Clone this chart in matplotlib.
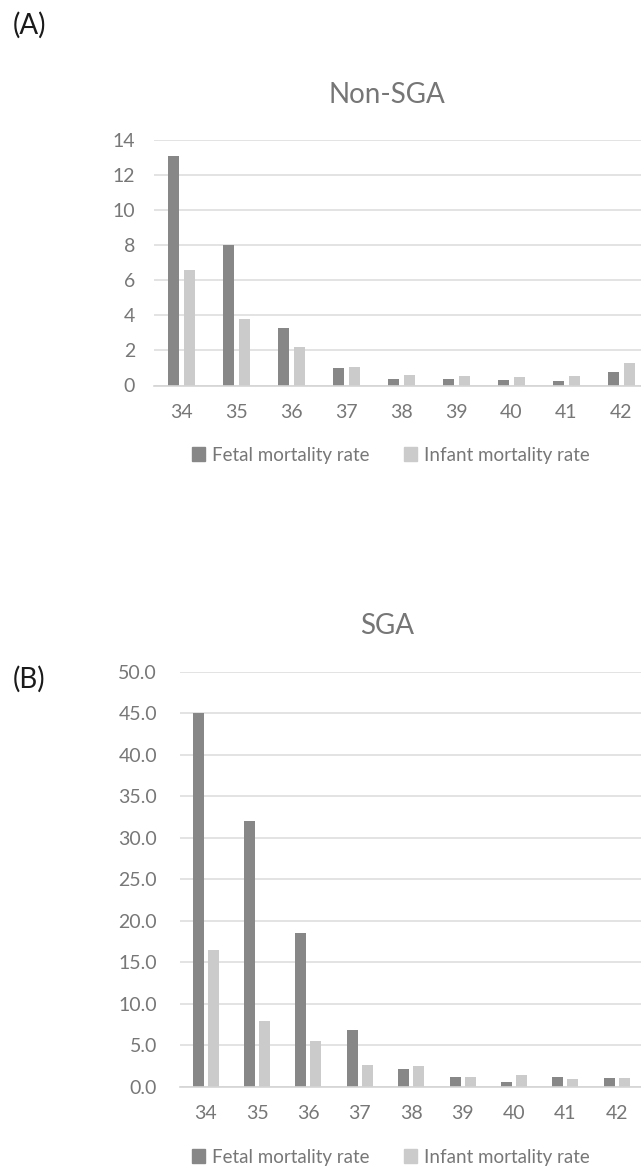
import matplotlib.pyplot as plt
import matplotlib.patches as mpatches
import numpy as np

plt.rcParams['font.family'] = ['Lato', 'DejaVu Sans']

# gestational week categories
weeks = ['34', '35', '36', '37', '38', '39', '40', '41', '42']

# non-SGA rates
nonsga_fetal = [13.1, 8.0, 3.3, 0.98, 0.38, 0.37, 0.29, 0.27, 0.79]
nonsga_infant = [6.6, 3.8, 2.17, 1.07, 0.6, 0.55, 0.48, 0.56, 1.3]

# SGA rates
sga_fetal = [45.0, 32.0, 18.5, 6.8, 2.1, 1.15, 0.6, 1.2, 1.1]
sga_infant = [16.5, 7.9, 5.5, 2.65, 2.5, 1.15, 1.4, 0.9, 1.1]

series_names = ['Fetal mortality rate', 'Infant mortality rate']
dark = '#878787'
light = '#cbcbcb'
txt = '#777777'
grid_c = '#dedede'

W, H = 641, 1166
fig = plt.figure(figsize=(W / 100, H / 100), dpi=100)


def px_axes(left, right, top, bottom):
    return fig.add_axes([left / W, 1 - bottom / H, (right - left) / W, (bottom - top) / H])


def draw_panel(ax, fetal, infant, ymax, step, fmt, ypad):
    x = np.arange(len(weeks))
    w = 0.216
    off = 0.146
    ax.bar(x - off, fetal, w, color=dark, zorder=3)
    ax.bar(x + off, infant, w, color=light, zorder=3)
    ax.set_xlim(-0.5, len(weeks) - 0.5)
    ax.set_ylim(0, ymax)
    ax.set_xticks(x)
    ax.set_xticklabels(weeks)
    ticks = np.arange(0, ymax + step / 2, step)
    ax.set_yticks(ticks)
    ax.set_yticklabels([fmt.format(t) for t in ticks])
    ax.yaxis.grid(True, color=grid_c, linewidth=1.2, zorder=0)
    for s in ['top', 'right', 'left']:
        ax.spines[s].set_visible(False)
    ax.spines['bottom'].set_color('#d4d4d4')
    ax.spines['bottom'].set_linewidth(1.2)
    ax.spines['bottom'].set_zorder(4)
    ax.tick_params(axis='x', length=0, pad=13, labelsize=14, labelcolor=txt)
    ax.tick_params(axis='y', length=0, pad=ypad, labelsize=14, labelcolor=txt)


# (A) Non-SGA
ax1 = px_axes(154, 649, 140, 385.5)
draw_panel(ax1, nonsga_fetal, nonsga_infant, 14, 2, '{:.0f}', 13.5)

# (B) SGA
ax2 = px_axes(180, 642.4, 671.7, 1086.7)
draw_panel(ax2, sga_fetal, sga_infant, 50, 5, '{:.1f}', 16.5)

fig.text(387 / W, 1 - 95 / H, 'Non-SGA', ha='center', va='center', fontsize=20, color='#767676')
fig.text(387 / W, 1 - 625.5 / H, 'SGA', ha='center', va='center', fontsize=20, color='#767676')
fig.text(13 / W, 1 - 25 / H, '(A)', ha='left', va='center', fontsize=20, color='#1a1a1a')
fig.text(13 / W, 1 - 679 / H, '(B)', ha='left', va='center', fontsize=20, color='#1a1a1a')

handles = [mpatches.Patch(color=dark), mpatches.Patch(color=light)]
for yc in [455, 1157]:
    fig.legend(handles, series_names, loc='center', bbox_to_anchor=(391 / W, 1 - yc / H),
               ncol=2, frameon=False, fontsize=13.5, labelcolor=txt,
               handlelength=0.7, handleheight=0.7, handletextpad=0.4, columnspacing=1.8)

plt.savefig('out.png', dpi=100)
